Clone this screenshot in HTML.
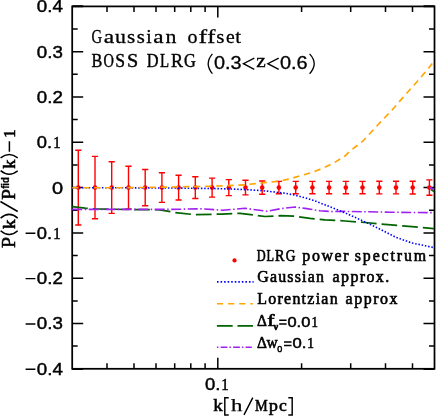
<!DOCTYPE html><html><head><meta charset="utf-8"><style>html,body{margin:0;padding:0;background:#fff}svg{display:block}</style></head><body><svg width="436" height="416" viewBox="0 0 436 416">
<rect width="436" height="416" fill="#fff"/>
<rect x="72.2" y="6.4" width="362.3" height="362.4" fill="none" stroke="#000" stroke-width="1.75"/>
<path d="M107.0,6.4v5.5M107.0,368.8v-5.5M134.0,6.4v5.5M134.0,368.8v-5.5M156.0,6.4v5.5M156.0,368.8v-5.5M174.7,6.4v5.5M174.7,368.8v-5.5M190.8,6.4v5.5M190.8,368.8v-5.5M205.1,6.4v5.5M205.1,368.8v-5.5M217.8,6.4v11M217.8,368.8v-11M301.6,6.4v5.5M301.6,368.8v-5.5M350.7,6.4v5.5M350.7,368.8v-5.5M385.5,6.4v5.5M385.5,368.8v-5.5M412.5,6.4v5.5M412.5,368.8v-5.5M72.2,346.1h5.5M434.5,346.1h-5.5M72.2,323.5h11M434.5,323.5h-11M72.2,300.9h5.5M434.5,300.9h-5.5M72.2,278.2h11M434.5,278.2h-11M72.2,255.6h5.5M434.5,255.6h-5.5M72.2,232.9h11M434.5,232.9h-11M72.2,210.2h5.5M434.5,210.2h-5.5M72.2,187.6h11M434.5,187.6h-11M72.2,164.9h5.5M434.5,164.9h-5.5M72.2,142.3h11M434.5,142.3h-11M72.2,119.6h5.5M434.5,119.6h-5.5M72.2,97.0h11M434.5,97.0h-11M72.2,74.3h5.5M434.5,74.3h-5.5M72.2,51.7h11M434.5,51.7h-11M72.2,29.0h5.5M434.5,29.0h-5.5" stroke="#000" stroke-width="1.5" fill="none"/>
<path d="M72.2,369.1h11M434.5,369.1h-11M72.2,6.2h11M434.5,6.2h-11" stroke="#000" stroke-width="1.9"/>
<path d="M78.3,150.2V225.0M75.2,150.2h6.2M75.2,225.0h6.2" stroke="#ff0000" stroke-width="1.4" fill="none"/>
<circle cx="78.3" cy="187.6" r="2.3" fill="#ff0000"/>
<path d="M95.0,156.4V218.8M91.9,156.4h6.2M91.9,218.8h6.2" stroke="#ff0000" stroke-width="1.4" fill="none"/>
<circle cx="95.0" cy="187.6" r="2.3" fill="#ff0000"/>
<path d="M111.7,161.8V213.4M108.6,161.8h6.2M108.6,213.4h6.2" stroke="#ff0000" stroke-width="1.4" fill="none"/>
<circle cx="111.7" cy="187.6" r="2.3" fill="#ff0000"/>
<path d="M128.5,166.3V208.9M125.4,166.3h6.2M125.4,208.9h6.2" stroke="#ff0000" stroke-width="1.4" fill="none"/>
<circle cx="128.5" cy="187.6" r="2.3" fill="#ff0000"/>
<path d="M145.2,169.5V205.7M142.1,169.5h6.2M142.1,205.7h6.2" stroke="#ff0000" stroke-width="1.4" fill="none"/>
<circle cx="145.2" cy="187.6" r="2.3" fill="#ff0000"/>
<path d="M161.9,172.8V202.4M158.8,172.8h6.2M158.8,202.4h6.2" stroke="#ff0000" stroke-width="1.4" fill="none"/>
<circle cx="161.9" cy="187.6" r="2.3" fill="#ff0000"/>
<path d="M178.6,175.2V200.0M175.5,175.2h6.2M175.5,200.0h6.2" stroke="#ff0000" stroke-width="1.4" fill="none"/>
<circle cx="178.6" cy="187.6" r="2.3" fill="#ff0000"/>
<path d="M195.3,176.7V198.5M192.2,176.7h6.2M192.2,198.5h6.2" stroke="#ff0000" stroke-width="1.4" fill="none"/>
<circle cx="195.3" cy="187.6" r="2.3" fill="#ff0000"/>
<path d="M212.1,178.1V197.1M209.0,178.1h6.2M209.0,197.1h6.2" stroke="#ff0000" stroke-width="1.4" fill="none"/>
<circle cx="212.1" cy="187.6" r="2.3" fill="#ff0000"/>
<path d="M228.8,179.6V195.6M225.7,179.6h6.2M225.7,195.6h6.2" stroke="#ff0000" stroke-width="1.4" fill="none"/>
<circle cx="228.8" cy="187.6" r="2.3" fill="#ff0000"/>
<path d="M245.5,180.3V194.9M242.4,180.3h6.2M242.4,194.9h6.2" stroke="#ff0000" stroke-width="1.4" fill="none"/>
<circle cx="245.5" cy="187.6" r="2.3" fill="#ff0000"/>
<path d="M262.2,181.0V194.2M259.1,181.0h6.2M259.1,194.2h6.2" stroke="#ff0000" stroke-width="1.4" fill="none"/>
<circle cx="262.2" cy="187.6" r="2.3" fill="#ff0000"/>
<path d="M278.9,181.4V193.8M275.8,181.4h6.2M275.8,193.8h6.2" stroke="#ff0000" stroke-width="1.4" fill="none"/>
<circle cx="278.9" cy="187.6" r="2.3" fill="#ff0000"/>
<path d="M295.7,181.4V193.8M292.6,181.4h6.2M292.6,193.8h6.2" stroke="#ff0000" stroke-width="1.4" fill="none"/>
<circle cx="295.7" cy="187.6" r="2.3" fill="#ff0000"/>
<path d="M312.4,181.4V193.8M309.3,181.4h6.2M309.3,193.8h6.2" stroke="#ff0000" stroke-width="1.4" fill="none"/>
<circle cx="312.4" cy="187.6" r="2.3" fill="#ff0000"/>
<path d="M329.1,181.4V193.8M326.0,181.4h6.2M326.0,193.8h6.2" stroke="#ff0000" stroke-width="1.4" fill="none"/>
<circle cx="329.1" cy="187.6" r="2.3" fill="#ff0000"/>
<path d="M345.8,181.4V193.8M342.7,181.4h6.2M342.7,193.8h6.2" stroke="#ff0000" stroke-width="1.4" fill="none"/>
<circle cx="345.8" cy="187.6" r="2.3" fill="#ff0000"/>
<path d="M362.5,181.4V193.8M359.4,181.4h6.2M359.4,193.8h6.2" stroke="#ff0000" stroke-width="1.4" fill="none"/>
<circle cx="362.5" cy="187.6" r="2.3" fill="#ff0000"/>
<path d="M379.3,181.3V193.9M376.2,181.3h6.2M376.2,193.9h6.2" stroke="#ff0000" stroke-width="1.4" fill="none"/>
<circle cx="379.3" cy="187.6" r="2.3" fill="#ff0000"/>
<path d="M396.0,181.3V193.9M392.9,181.3h6.2M392.9,193.9h6.2" stroke="#ff0000" stroke-width="1.4" fill="none"/>
<circle cx="396.0" cy="187.6" r="2.3" fill="#ff0000"/>
<path d="M412.7,181.2V194.0M409.6,181.2h6.2M409.6,194.0h6.2" stroke="#ff0000" stroke-width="1.4" fill="none"/>
<circle cx="412.7" cy="187.6" r="2.3" fill="#ff0000"/>
<path d="M429.4,179.9V195.3M426.3,179.9h6.2M426.3,195.3h6.2" stroke="#ff0000" stroke-width="1.4" fill="none"/>
<circle cx="429.4" cy="187.6" r="2.3" fill="#ff0000"/>
<polyline points="72.2,206.6 85.0,208.2 95.0,209.0 130.0,209.5 160.0,209.8 175.0,212.5 195.0,214.7 222.0,214.1 240.0,213.3 255.0,215.2 265.0,216.5 280.0,215.7 295.0,216.2 310.0,218.4 325.0,219.8 345.0,221.0 365.0,222.5 380.0,224.0 412.0,226.7 434.0,228.6" fill="none" stroke="#006400" stroke-width="1.7" stroke-dasharray="15.7 5"/>
<polyline points="72.2,209.4 170.0,209.4 200.0,208.8 223.0,210.2 245.0,208.3 267.0,211.2 280.0,208.8 295.0,207.0 305.0,208.4 320.0,210.8 333.0,211.6 345.0,211.4 390.0,212.2 434.0,212.7" fill="none" stroke="#a020f0" stroke-width="1.6" stroke-dasharray="10 2.5 1.5 2.5"/>
<polyline points="72.2,187.8 120.0,187.8 150.0,187.9 170.0,188.0 195.0,188.3 212.0,188.5 228.0,188.9 245.0,189.6 262.0,190.6 278.7,192.5 285.0,193.2 295.0,195.2 305.0,197.8 313.0,200.2 320.0,202.9 330.0,206.8 345.0,212.9 355.0,217.3 367.0,222.8 380.4,229.4 396.0,237.3 412.0,243.0 434.0,247.6" fill="none" stroke="#0000ff" stroke-width="1.6" stroke-dasharray="1.5 1.8"/>
<polyline points="72.2,187.7 120.0,187.7 150.0,187.4 170.0,187.0 195.0,186.6 212.0,186.2 228.0,185.6 245.0,184.8 262.0,182.9 278.7,181.3 290.0,178.8 300.0,175.9 312.0,172.5 322.0,168.5 333.0,163.4 345.0,156.0 349.5,151.5 363.0,141.0 378.0,124.7 391.6,110.6 403.3,97.1 416.8,82.0 426.9,70.2 434.0,61.2" fill="none" stroke="#ffa500" stroke-width="1.65" stroke-dasharray="6.4 4.7" stroke-dashoffset="0.3"/>
<line x1="429.5" y1="187.6" x2="434" y2="189.2" stroke="#a020f0" stroke-width="2"/>
<line x1="431" y1="189.6" x2="434" y2="191.6" stroke="#006400" stroke-width="1.5"/>
<g font-family="'Liberation Serif', serif" fill="#000" style="filter:grayscale(1)">
<text x="36.8" y="374.7" font-size="16" textLength="26.0" lengthAdjust="spacingAndGlyphs" font-family="'Liberation Sans', sans-serif" stroke="#000" stroke-width="0.42">0.4</text>
<text x="36.8" y="329.4" font-size="16" textLength="26.0" lengthAdjust="spacingAndGlyphs" font-family="'Liberation Sans', sans-serif" stroke="#000" stroke-width="0.42">0.3</text>
<text x="36.8" y="284.1" font-size="16" textLength="26.0" lengthAdjust="spacingAndGlyphs" font-family="'Liberation Sans', sans-serif" stroke="#000" stroke-width="0.42">0.2</text>
<text x="36.8" y="238.8" font-size="16" textLength="15.3" lengthAdjust="spacingAndGlyphs" font-family="'Liberation Sans', sans-serif" stroke="#000" stroke-width="0.42">0.</text>
<text x="53.2" y="238.8" font-size="16.96" textLength="7.3" lengthAdjust="spacingAndGlyphs" stroke="#000" stroke-width="0.55">1</text>
<text x="51.9" y="193.5" font-size="16" textLength="11.1" lengthAdjust="spacingAndGlyphs" font-family="'Liberation Sans', sans-serif" stroke="#000" stroke-width="0.42">0</text>
<text x="36.8" y="148.2" font-size="16" textLength="15.3" lengthAdjust="spacingAndGlyphs" font-family="'Liberation Sans', sans-serif" stroke="#000" stroke-width="0.42">0.</text>
<text x="53.2" y="148.2" font-size="16.96" textLength="7.3" lengthAdjust="spacingAndGlyphs" stroke="#000" stroke-width="0.55">1</text>
<text x="36.8" y="102.9" font-size="16" textLength="26.0" lengthAdjust="spacingAndGlyphs" font-family="'Liberation Sans', sans-serif" stroke="#000" stroke-width="0.42">0.2</text>
<text x="36.8" y="57.6" font-size="16" textLength="26.0" lengthAdjust="spacingAndGlyphs" font-family="'Liberation Sans', sans-serif" stroke="#000" stroke-width="0.42">0.3</text>
<text x="36.8" y="12.3" font-size="16" textLength="26.0" lengthAdjust="spacingAndGlyphs" font-family="'Liberation Sans', sans-serif" stroke="#000" stroke-width="0.42">0.4</text>
<text x="204.9" y="389.6" font-size="16" textLength="15.4" lengthAdjust="spacingAndGlyphs" font-family="'Liberation Sans', sans-serif" stroke="#000" stroke-width="0.42">0.</text>
<text x="221.3" y="389.6" font-size="16.96" textLength="7.4" lengthAdjust="spacingAndGlyphs" stroke="#000" stroke-width="0.55">1</text>
<text x="213.3" y="411.3" font-size="17.4" textLength="9.6" lengthAdjust="spacingAndGlyphs" stroke="#000" stroke-width="0.55">k</text>
<text x="268.8" y="411.3" font-size="17.4" textLength="9.2" lengthAdjust="spacingAndGlyphs" stroke="#000" stroke-width="0.55">p</text>
<text x="279.1" y="411.3" font-size="17.4" textLength="7.8" lengthAdjust="spacingAndGlyphs" stroke="#000" stroke-width="0.55">c</text>
<text x="231.0" y="411.3" font-size="17.4" textLength="11.4" lengthAdjust="spacingAndGlyphs" stroke="#000" stroke-width="0.25">h</text>
<text x="255.0" y="411.3" font-size="15.8" textLength="12.7" lengthAdjust="spacingAndGlyphs" stroke="#000" stroke-width="0.55">M</text>
<path d="M25.6,369.2L35.4,369.2M25.6,323.9L35.4,323.9M25.6,278.6L35.4,278.6M25.6,233.3L35.4,233.3M228.7,397.7H224.8V414.9H228.7M288.3,397.7H292.2V414.9H288.3M244.0,414.9L252.8,397.7" fill="none" stroke="#000" stroke-width="1.45" />
<text x="91.6" y="43.3" font-size="19.6" textLength="10.6" lengthAdjust="spacingAndGlyphs" stroke="#000" stroke-width="0.3">G</text>
<text x="103.7" y="43.3" font-size="19.6" textLength="10.4" lengthAdjust="spacingAndGlyphs" stroke="#000" stroke-width="0.3">a</text>
<text x="115.1" y="43.3" font-size="19.6" textLength="10.9" lengthAdjust="spacingAndGlyphs" stroke="#000" stroke-width="0.3">u</text>
<text x="127.0" y="43.3" font-size="19.6" textLength="8.2" lengthAdjust="spacingAndGlyphs" stroke="#000" stroke-width="0.3">s</text>
<text x="136.8" y="43.3" font-size="19.6" textLength="8.1" lengthAdjust="spacingAndGlyphs" stroke="#000" stroke-width="0.3">s</text>
<text x="146.3" y="43.3" font-size="19.6" textLength="5.4" lengthAdjust="spacingAndGlyphs" stroke="#000" stroke-width="0.3">i</text>
<text x="153.3" y="43.3" font-size="19.6" textLength="10.3" lengthAdjust="spacingAndGlyphs" stroke="#000" stroke-width="0.3">a</text>
<text x="165.5" y="43.3" font-size="19.6" textLength="10.9" lengthAdjust="spacingAndGlyphs" stroke="#000" stroke-width="0.3">n</text>
<text x="187.5" y="43.3" font-size="19.6" textLength="10.0" lengthAdjust="spacingAndGlyphs" stroke="#000" stroke-width="0.3">o</text>
<text x="198.6" y="43.3" font-size="19.6" textLength="8.6" lengthAdjust="spacingAndGlyphs" stroke="#000" stroke-width="0.3">f</text>
<text x="207.2" y="43.3" font-size="19.6" textLength="8.2" lengthAdjust="spacingAndGlyphs" stroke="#000" stroke-width="0.3">f</text>
<text x="216.3" y="43.3" font-size="19.6" textLength="8.2" lengthAdjust="spacingAndGlyphs" stroke="#000" stroke-width="0.3">s</text>
<text x="226.1" y="43.3" font-size="19.6" textLength="8.7" lengthAdjust="spacingAndGlyphs" stroke="#000" stroke-width="0.3">e</text>
<text x="235.2" y="43.3" font-size="19.6" textLength="5.8" lengthAdjust="spacingAndGlyphs" stroke="#000" stroke-width="0.3">t</text>
<text x="91.6" y="67.4" font-size="19.8" textLength="10.8" lengthAdjust="spacingAndGlyphs" stroke="#000" stroke-width="0.45">B</text>
<text x="103.5" y="67.4" font-size="19.8" textLength="10.4" lengthAdjust="spacingAndGlyphs" stroke="#000" stroke-width="0.45">O</text>
<text x="115.3" y="67.4" font-size="19.8" textLength="9.8" lengthAdjust="spacingAndGlyphs" stroke="#000" stroke-width="0.45">S</text>
<text x="126.9" y="67.4" font-size="19.8" textLength="11.2" lengthAdjust="spacingAndGlyphs" stroke="#000" stroke-width="0.45">S</text>
<text x="146.7" y="67.4" font-size="19.8" textLength="11.8" lengthAdjust="spacingAndGlyphs" stroke="#000" stroke-width="0.45">D</text>
<text x="159.9" y="67.4" font-size="19.8" textLength="9.1" lengthAdjust="spacingAndGlyphs" stroke="#000" stroke-width="0.45">L</text>
<text x="170.9" y="67.4" font-size="19.8" textLength="12.0" lengthAdjust="spacingAndGlyphs" stroke="#000" stroke-width="0.45">R</text>
<text x="184.1" y="67.4" font-size="19.8" textLength="11.8" lengthAdjust="spacingAndGlyphs" stroke="#000" stroke-width="0.45">G</text>
<text x="256.3" y="67.4" font-size="19.6" textLength="9.5" lengthAdjust="spacingAndGlyphs" stroke="#000" stroke-width="0.4">z</text>
<text x="214.0" y="69.4" font-size="18" textLength="27.6" lengthAdjust="spacingAndGlyphs" font-family="'Liberation Sans', sans-serif" stroke="#000" stroke-width="0.3">0.3</text>
<text x="279.9" y="69.4" font-size="18" textLength="27.7" lengthAdjust="spacingAndGlyphs" font-family="'Liberation Sans', sans-serif" stroke="#000" stroke-width="0.3">0.6</text>
<path d="M212.4,53.9Q204.0,63.8 212.4,73.7M309.6,53.9Q318.8,63.8 309.6,73.7M254.3,58.1L243.4,63.7L254.3,69.3M278.7,58.1L267.8,63.7L278.7,69.3" fill="none" stroke="#000" stroke-width="1.3" />
<text x="256.7" y="261.1" font-size="16.2" textLength="8.9" lengthAdjust="spacingAndGlyphs" stroke="#000" stroke-width="0.65">D</text>
<text x="266.6" y="261.1" font-size="16.2" textLength="7.5" lengthAdjust="spacingAndGlyphs" stroke="#000" stroke-width="0.65">L</text>
<text x="275.1" y="261.1" font-size="16.2" textLength="9.5" lengthAdjust="spacingAndGlyphs" stroke="#000" stroke-width="0.65">R</text>
<text x="285.7" y="261.1" font-size="16.2" textLength="9.7" lengthAdjust="spacingAndGlyphs" stroke="#000" stroke-width="0.65">G</text>
<text x="302.3" y="261.1" font-size="15.9" textLength="46.3" lengthAdjust="spacing" stroke="#000" stroke-width="0.6">power</text>
<text x="354.8" y="261.1" font-size="15.9" textLength="71.3" lengthAdjust="spacing" stroke="#000" stroke-width="0.6">spectrum</text>
<text x="257.3" y="282.4" font-size="15.9" textLength="66.6" lengthAdjust="spacing" stroke="#000" stroke-width="0.6">Gaussian</text>
<text x="332.6" y="282.4" font-size="15.9" textLength="56.6" lengthAdjust="spacing" stroke="#000" stroke-width="0.6">approx.</text>
<text x="257.3" y="303.6" font-size="15.9" textLength="80.3" lengthAdjust="spacing" stroke="#000" stroke-width="0.6">Lorentzian</text>
<text x="345.6" y="303.6" font-size="15.9" textLength="51.9" lengthAdjust="spacing" stroke="#000" stroke-width="0.6">approx</text>
<text x="257.0" y="326.2" font-size="16.3" textLength="9.9" lengthAdjust="spacingAndGlyphs" stroke="#000" stroke-width="0.6">Δ</text>
<text x="267.2" y="326.2" font-size="16.3" textLength="7.2" lengthAdjust="spacingAndGlyphs" stroke="#000" stroke-width="0.6">f</text>
<text x="273.5" y="330.4" font-size="10.5" textLength="4.6" lengthAdjust="spacingAndGlyphs" stroke="#000" stroke-width="0.6" font-weight="bold">ν</text>
<text x="257.0" y="347.8" font-size="16.3" textLength="9.9" lengthAdjust="spacingAndGlyphs" stroke="#000" stroke-width="0.6">Δ</text>
<text x="266.6" y="347.8" font-size="16.3" textLength="11.2" lengthAdjust="spacingAndGlyphs" stroke="#000" stroke-width="0.6">w</text>
<text x="277.2" y="351.9" font-size="9.0" textLength="5.0" lengthAdjust="spacingAndGlyphs" font-family="'Liberation Sans', sans-serif" stroke="#000" stroke-width="0.5">0</text>
<text x="287.5" y="326.6" font-size="13.8" textLength="22.8" lengthAdjust="spacingAndGlyphs" font-family="'Liberation Sans', sans-serif" stroke="#000" stroke-width="0.5">0.0</text>
<text x="311.5" y="326.6" font-size="14.628000000000002" textLength="6.4" lengthAdjust="spacingAndGlyphs" stroke="#000" stroke-width="0.6">1</text>
<text x="292.4" y="348.2" font-size="13.8" textLength="13.9" lengthAdjust="spacingAndGlyphs" font-family="'Liberation Sans', sans-serif" stroke="#000" stroke-width="0.5">0.</text>
<text x="307.2" y="348.2" font-size="14.628000000000002" textLength="6.7" lengthAdjust="spacingAndGlyphs" stroke="#000" stroke-width="0.6">1</text>
<path d="M279.2,320.3h7.4M279.2,323.9h7.4M284.0,341.9h7.6M284.0,345.5h7.6" fill="none" stroke="#000" stroke-width="1.5" />
<g transform="translate(14.8,248.1) rotate(-90)">
<text x="0.0" y="0.0" font-size="18" textLength="10.9" lengthAdjust="spacingAndGlyphs" stroke="#000" stroke-width="0.55">P</text>
<text x="48.3" y="0.0" font-size="18" textLength="10.6" lengthAdjust="spacingAndGlyphs" stroke="#000" stroke-width="0.55">P</text>
<text x="19.0" y="0.0" font-size="16.5" textLength="9.6" lengthAdjust="spacingAndGlyphs" stroke="#000" stroke-width="0.55">k</text>
<text x="79.3" y="0.0" font-size="16.5" textLength="9.2" lengthAdjust="spacingAndGlyphs" stroke="#000" stroke-width="0.55">k</text>
<text x="110.0" y="0.0" font-size="17.5" textLength="8.7" lengthAdjust="spacingAndGlyphs" stroke="#000" stroke-width="0.55">1</text>
<path d="M17.4,-14.2Q9.8,-5.6 17.4,2.9M30.0,-14.2Q37.4,-5.6 30.0,2.9M77.4,-14.2Q70.2,-5.6 77.4,2.9M90.2,-14.2Q97.0,-5.6 90.2,2.9M36.6,2.9L46.6,-14.4M96.3,-5.4L106.9,-5.4" fill="none" stroke="#000" stroke-width="1.5" />
<text x="59.3" y="-5.4" font-size="11.7" font-weight="bold" stroke="#000" stroke-width="0.3" font-family="'Liberation Sans', sans-serif" textLength="11.6" lengthAdjust="spacingAndGlyphs">fid</text>
</g>
</g>
<circle cx="234.5" cy="260.4" r="2.1" fill="#ff0000"/>
<line x1="217.0" y1="281.9" x2="253.6" y2="281.9" stroke="#0000ff" stroke-width="1.8" stroke-dasharray="1.55 2.0"/>
<line x1="217.0" y1="303.8" x2="252.9" y2="303.8" stroke="#ffa500" stroke-width="1.5" stroke-dasharray="6.1 5.0"/>
<line x1="216.9" y1="325.8" x2="253.0" y2="325.8" stroke="#006400" stroke-width="1.7" stroke-dasharray="15.8 4.8"/>
<line x1="216.9" y1="347.3" x2="251.8" y2="347.3" stroke="#a020f0" stroke-width="1.6" stroke-dasharray="6.8 2.0 1.5 2.2" stroke-dashoffset="8.8"/>
</svg></body></html>
